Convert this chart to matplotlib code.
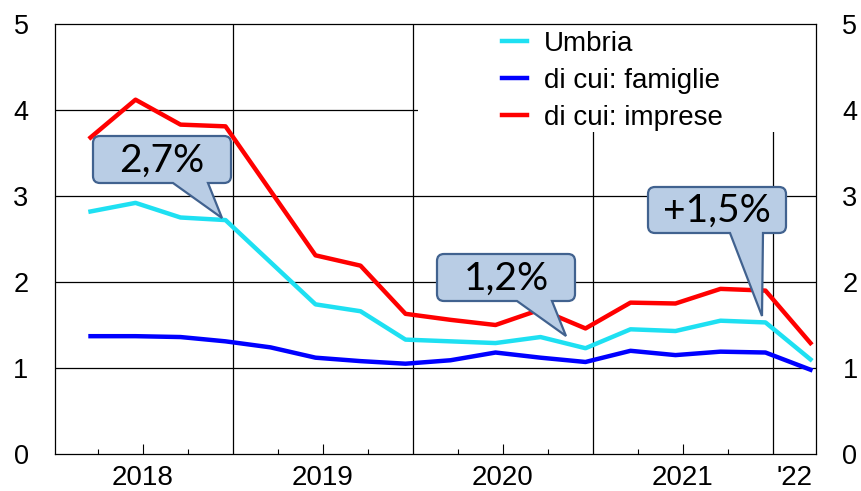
import matplotlib
matplotlib.use("Agg")
import matplotlib.pyplot as plt
from matplotlib.path import Path
from matplotlib.patches import PathPatch, Rectangle

# quarterly data, 2018Q1 - 2022Q1
years = [2018]*4 + [2019]*4 + [2020]*4 + [2021]*4 + [2022]
quarters = [1, 2, 3, 4]*4 + [1]
umbria = [2.82, 2.92, 2.75, 2.72, 2.23, 1.74, 1.66, 1.33, 1.31, 1.29, 1.36, 1.23, 1.45, 1.43, 1.55, 1.53, 1.10]
famiglie = [1.37, 1.37, 1.36, 1.31, 1.24, 1.12, 1.08, 1.05, 1.09, 1.18, 1.12, 1.07, 1.20, 1.15, 1.19, 1.18, 0.98]
imprese = [3.68, 4.12, 3.83, 3.81, 3.06, 2.31, 2.19, 1.63, 1.56, 1.50, 1.68, 1.46, 1.76, 1.75, 1.92, 1.90, 1.29]

year_labels = ["2018", "2019", "2020", "2021", "'22"]
callout_texts = ["2,7%", "1,2%", "+1,5%"]

# points sit in the middle of the last month of each quarter
x = [y + (3*q - 0.5)/12 for y, q in zip(years, quarters)]

plt.rcParams['font.family'] = ['Liberation Sans', 'DejaVu Sans']

W, H = 861, 491
fig = plt.figure(figsize=(W/100, H/100), dpi=100)
ax = fig.add_axes([55/W, 1 - 454/H, (816-55)/W, (454-24)/H])

ax.set_xlim(2018.011, 2022.239)
ax.set_ylim(0, 5)

for v in [1, 2, 3, 4]:
    ax.axhline(v, color='black', lw=0.9, zorder=1)
for v in [2019, 2020, 2021, 2022]:
    ax.axvline(v, color='black', lw=0.9, zorder=1)

# white area behind the legend hides grid lines
ax.add_patch(Rectangle((0.477, 0.749), 0.523, 0.251, transform=ax.transAxes,
                       facecolor='white', edgecolor='none', zorder=1.5))

ax.plot(x, umbria, color='#1ee0f2', lw=3.2, label='Umbria', zorder=3)
ax.plot(x, famiglie, color='#0000ff', lw=3.2, label='di cui: famiglie', zorder=3)
ax.plot(x, imprese, color='#ff0000', lw=3.2, label='di cui: imprese', zorder=3)

leg = ax.legend(loc='upper left', bbox_to_anchor=(0.587, 0.984), frameon=False,
                fontsize=20, borderpad=0, borderaxespad=0, handlelength=0.9,
                handletextpad=0.62, labelspacing=0.4)
leg.set_zorder(4)

ax.set_yticks([0, 1, 2, 3, 4, 5])
ax.tick_params(axis='y', length=0, labelsize=19.5, pad=19, labelleft=True, labelright=True)

ax.set_xticks([2018.5, 2019.5, 2020.5, 2021.5, 2022.12])
ax.set_xticklabels(year_labels)
minor = [y + q/4 for y in [2018, 2019, 2020, 2021] for q in [1, 3]]
ax.set_xticks(minor, minor=True)
ax.tick_params(axis='x', which='major', direction='in', length=7, width=0.8, labelsize=20, pad=8)
ax.tick_params(axis='x', which='minor', direction='in', length=3.5, width=0.8)
ax.xaxis.get_major_ticks()[-1].tick1line.set_visible(False)

for s in ax.spines.values():
    s.set_linewidth(0.9)

# overlay in pixel coordinates for the callouts
ov = fig.add_axes([0, 0, 1, 1], zorder=5)
ov.set_xlim(0, W)
ov.set_ylim(H, 0)
ov.axis('off')
ov.patch.set_alpha(0)


def callout(x0, y0, x1, y1, bx0, bx1, tip, text, r=7):
    verts = [(x0 + r, y0), (x1 - r, y0), (x1, y0), (x1, y0 + r),
             (x1, y1 - r), (x1, y1), (x1 - r, y1),
             (bx1, y1), tip, (bx0, y1),
             (x0 + r, y1), (x0, y1), (x0, y1 - r),
             (x0, y0 + r), (x0, y0), (x0 + r, y0), (x0 + r, y0)]
    codes = [Path.MOVETO, Path.LINETO, Path.CURVE3, Path.CURVE3,
             Path.LINETO, Path.CURVE3, Path.CURVE3,
             Path.LINETO, Path.LINETO, Path.LINETO,
             Path.LINETO, Path.CURVE3, Path.CURVE3,
             Path.LINETO, Path.CURVE3, Path.CURVE3, Path.CLOSEPOLY]
    ov.add_patch(PathPatch(Path(verts, codes), facecolor='#b9cde5',
                           edgecolor='#41628f', lw=1.6))
    ov.text((x0 + x1)/2, (y0 + y1)/2 + 1, text, ha='center', va='center',
            fontsize=28, family=['Lato', 'DejaVu Sans'], color='black')


callout(93, 136, 231, 183, 173, 208, (222, 218), callout_texts[0])
callout(437, 254, 575, 301, 517, 552, (566, 336), callout_texts[1])
callout(648, 187, 786, 233, 730, 763, (762, 316), callout_texts[2])

fig.savefig('out.png', dpi=100)
